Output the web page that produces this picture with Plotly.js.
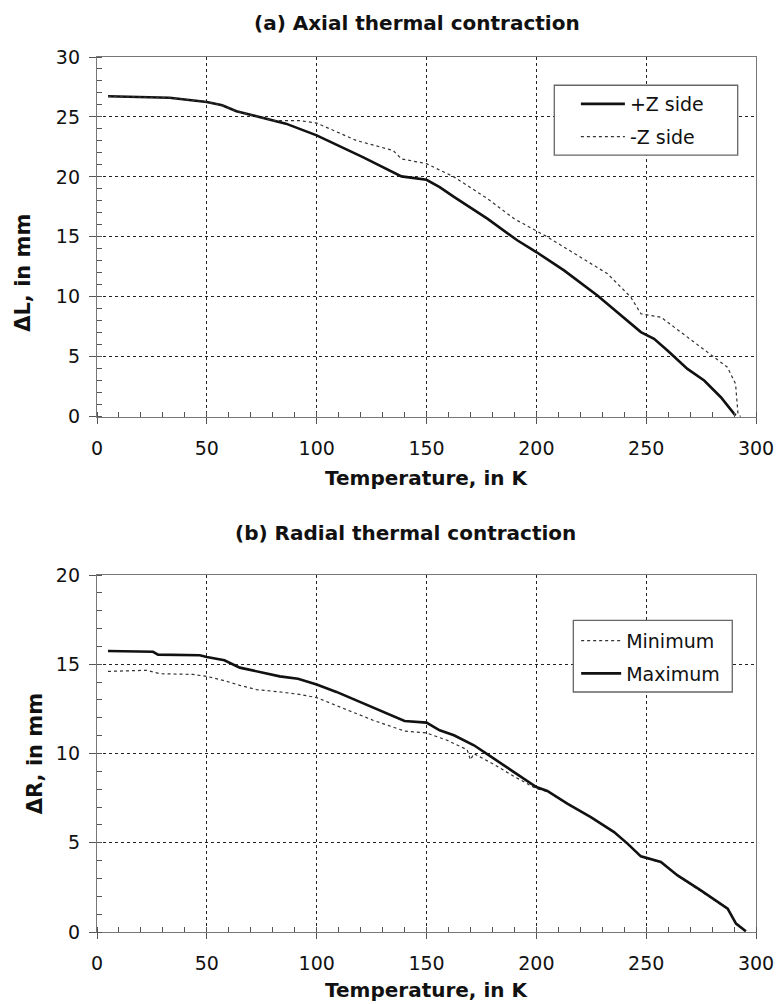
<!DOCTYPE html>
<html>
<head>
<meta charset="utf-8">
<script src="https://cdn.plot.ly/plotly-3.0.1.min.js"></script>
<style>html,body{margin:0;padding:0;background:#fff;}#chart{width:777px;height:1004px;}</style>
</head>
<body>
<div id="chart"></div>
<script>
// (a) Axial thermal contraction
const axialPlusT = [5, 20, 33, 50, 57, 63.5, 75.6, 86, 100, 121, 138.6, 150, 156, 162.5, 177.7, 191.3, 200, 212.6, 227.8, 241.5, 247.6, 253.6, 259.7, 268.8, 276.4, 284, 290.7];
const axialPlusL = [26.72, 26.65, 26.6, 26.25, 25.97, 25.47, 24.94, 24.44, 23.46, 21.65, 20.04, 19.76, 19.15, 18.33, 16.52, 14.71, 13.73, 12.2, 10.11, 8.02, 7.05, 6.49, 5.52, 3.98, 3.01, 1.62, 0.08];
const axialMinusT = [5, 20, 33, 50, 57, 63.5, 75.6, 80, 92, 100, 118, 134.8, 138.6, 150, 162.5, 177.7, 189.8, 200, 205, 220, 232.4, 243, 247.6, 256.7, 268.8, 281, 287, 290.7, 291.8, 293];
const axialMinusL = [26.72, 26.65, 26.6, 26.25, 25.97, 25.47, 24.94, 24.7, 24.7, 24.49, 23.04, 22.2, 21.5, 21.1, 20.0, 18.19, 16.52, 15.54, 14.99, 13.31, 11.92, 9.97, 8.58, 8.3, 6.63, 4.96, 4.12, 2.73, 0.22, 0];

// (b) Radial thermal contraction
const radialMinT = [5, 22.5, 28.5, 43.7, 50, 57.4, 65, 72.6, 83.2, 92.3, 100, 113.6, 125.7, 140, 150, 159.4, 168.5, 170, 171.6, 180.7, 189.8, 200, 205, 214.1, 224.8, 235.4, 241.5, 247.6, 256.7, 264.3, 274.9, 282.5, 287.1, 290.9, 295.4];
const radialMinR = [14.6, 14.66, 14.47, 14.43, 14.32, 14.1, 13.82, 13.58, 13.45, 13.31, 13.13, 12.46, 11.86, 11.26, 11.15, 10.74, 10.21, 9.65, 9.99, 9.39, 8.72, 8.03, 7.88, 7.17, 6.42, 5.58, 4.93, 4.22, 3.9, 3.15, 2.31, 1.66, 1.29, 0.45, 0.02];
const radialMaxT = [5, 25.5, 27.8, 46.8, 50, 58, 65, 74, 83.2, 91.5, 100, 109, 121, 131.8, 140, 150, 156, 162.5, 171.6, 180.7, 189.8, 200, 205, 214.1, 224.8, 235.4, 241.5, 247.6, 256.7, 264.3, 274.9, 282.5, 287.1, 290.9, 295.4];
const radialMaxR = [15.74, 15.7, 15.54, 15.5, 15.41, 15.22, 14.81, 14.57, 14.32, 14.19, 13.87, 13.45, 12.83, 12.23, 11.82, 11.73, 11.3, 11.02, 10.46, 9.71, 8.96, 8.12, 7.9, 7.19, 6.44, 5.6, 4.95, 4.24, 3.92, 3.17, 2.33, 1.68, 1.31, 0.47, 0.04];

const titleA = '(a) Axial thermal contraction';
const titleB = '(b) Radial thermal contraction';
const xTitle = 'Temperature, in K';
const yTitleA = 'ΔL, in mm';
const yTitleB = 'ΔR, in mm';

const FONT = 'DejaVu Sans, Verdana, sans-serif';
const thick = {color: '#111', width: 2.6};
const thin = {color: '#333', width: 1.2, dash: 'dot'};

const traces = [
  {x: axialPlusT, y: axialPlusL, name: '+Z side', mode: 'lines', line: thick, xaxis: 'x', yaxis: 'y', legend: 'legend', legendgroup: 'a1'},
  {x: axialMinusT, y: axialMinusL, name: '-Z side', mode: 'lines', line: thin, xaxis: 'x', yaxis: 'y', legend: 'legend', legendgroup: 'a2'},
  {x: radialMinT, y: radialMinR, name: 'Minimum', mode: 'lines', line: thin, xaxis: 'x2', yaxis: 'y2', legend: 'legend2', legendgroup: 'b1'},
  {x: radialMaxT, y: radialMaxR, name: 'Maximum', mode: 'lines', line: thick, xaxis: 'x2', yaxis: 'y2', legend: 'legend2', legendgroup: 'b2'}
];

function xAxis(anchor) {
  return {
    anchor: anchor, domain: [0, 1], range: [0, 300], dtick: 50, tick0: 0,
    showgrid: true, gridcolor: '#222', griddash: 'dot', gridwidth: 1,
    showline: true, mirror: true, linecolor: '#777', linewidth: 1.2,
    ticks: 'outside', ticklen: 6, tickcolor: '#555', ticklabelstandoff: 8,
    minor: {dtick: 10, ticks: 'inside', ticklen: 5, tickcolor: '#555', showgrid: false},
    zeroline: false, tickfont: {family: FONT, size: 19, color: '#111'}
  };
}
function yAxis(anchor, dom, max) {
  return {
    anchor: anchor, domain: dom, range: [0, max], dtick: 5, tick0: 0,
    showgrid: true, gridcolor: '#222', griddash: 'dot', gridwidth: 1,
    showline: true, mirror: true, linecolor: '#777', linewidth: 1.2,
    ticks: 'outside', ticklen: 7, tickcolor: '#555', ticklabelstandoff: 5,
    minor: {dtick: 1, ticks: 'inside', ticklen: 5, tickcolor: '#555', showgrid: false},
    zeroline: false, tickfont: {family: FONT, size: 19, color: '#111'}
  };
}

const legendBase = {
  bgcolor: 'rgba(0,0,0,0)', borderwidth: 0,
  font: {family: FONT, size: 19, color: '#111'},
  xanchor: 'left', yanchor: 'top', itemwidth: 40, tracegroupgap: 5
};

function boxShape(x0, x1, y0, y1) {
  return {type: 'rect', xref: 'paper', yref: 'paper', x0: x0, x1: x1, y0: y0, y1: y1,
          fillcolor: '#fff', line: {color: '#666', width: 1.3}, layer: 'above'};
}

const layout = {
  width: 777, height: 1004,
  margin: {l: 97, r: 21, t: 57, b: 72},
  paper_bgcolor: '#fff', plot_bgcolor: '#fff',
  showlegend: true,
  xaxis: xAxis('y'),
  yaxis: yAxis('x', [0.589, 1], 30),
  xaxis2: xAxis('y2'),
  yaxis2: yAxis('x2', [0, 0.408], 20),
  legend: Object.assign({}, legendBase, {x: 0.7267, y: 0.968, itemwidth: 44}),
  legend2: Object.assign({}, legendBase, {x: 0.7271, y: 0.3545}),
  shapes: [
    boxShape(0.6939, 0.9722, 0.8878, 0.9677),
    boxShape(0.7228, 0.9640, 0.2743, 0.3562)
  ],
  annotations: [
    {text: '<b>' + titleA + '</b>', xref: 'paper', yref: 'paper', x: 0.4856, y: 1.0391, yanchor: 'middle', showarrow: false, font: {family: FONT, size: 20, color: '#111'}},
    {text: '<b>' + xTitle + '</b>', xref: 'paper', yref: 'paper', x: 0.5, y: 0.5194, yanchor: 'middle', showarrow: false, font: {family: FONT, size: 20, color: '#111'}},
    {text: '<b>' + yTitleA + '</b>', xref: 'paper', yref: 'paper', x: -0.1123, y: 0.7534, xanchor: 'center', yanchor: 'middle', textangle: -90, showarrow: false, font: {family: FONT, size: 21, color: '#111'}},
    {text: '<b>' + titleB + '</b>', xref: 'paper', yref: 'paper', x: 0.4674, y: 0.4555, yanchor: 'middle', showarrow: false, font: {family: FONT, size: 20, color: '#111'}},
    {text: '<b>' + xTitle + '</b>', xref: 'paper', yref: 'paper', x: 0.5, y: -0.0662, yanchor: 'middle', showarrow: false, font: {family: FONT, size: 20, color: '#111'}},
    {text: '<b>' + yTitleB + '</b>', xref: 'paper', yref: 'paper', x: -0.0941, y: 0.2043, xanchor: 'center', yanchor: 'middle', textangle: -90, showarrow: false, font: {family: FONT, size: 21, color: '#111'}}
  ]
};

Plotly.newPlot('chart', traces, layout, {displayModeBar: false, staticPlot: true});
</script>
</body>
</html>
